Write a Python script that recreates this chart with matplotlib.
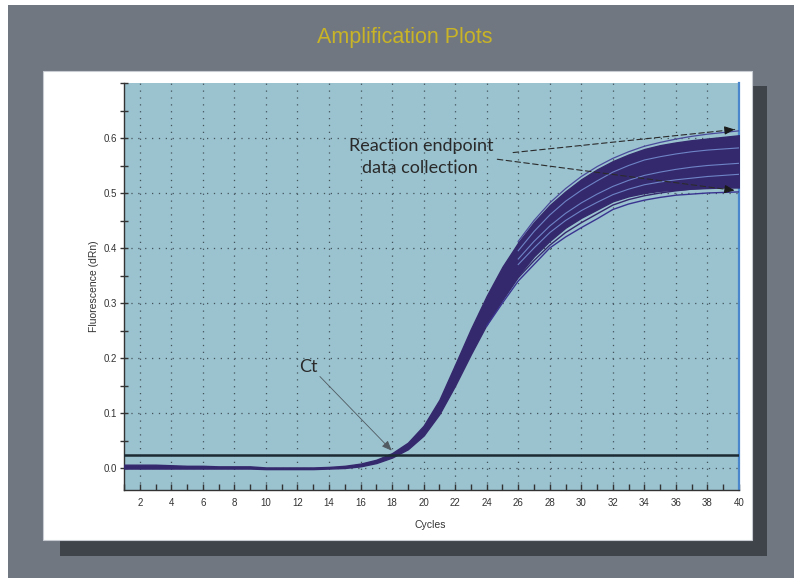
import matplotlib
matplotlib.use("Agg")
import matplotlib.pyplot as plt
from matplotlib.patches import Rectangle
from matplotlib.ticker import MultipleLocator, FixedLocator, FormatStrFormatter

# ---------------- data ----------------
cycles = list(range(1, 41))
band_upper = [0.006, 0.006, 0.006, 0.005, 0.004, 0.004, 0.003, 0.003, 0.003, 0.001,
              0.001, 0.001, 0.001, 0.002, 0.004, 0.008, 0.015, 0.027, 0.046, 0.077,
              0.124, 0.188, 0.253, 0.313, 0.366, 0.410, 0.447, 0.478, 0.503, 0.525,
              0.543, 0.558, 0.570, 0.580, 0.587, 0.592, 0.596, 0.599, 0.602, 0.605]
band_lower = [-0.001, -0.001, -0.001, -0.001, -0.001, -0.001, -0.001, -0.001, -0.001, -0.002,
              -0.002, -0.002, -0.002, -0.001, 0.000, 0.003, 0.009, 0.019, 0.034, 0.059,
              0.098, 0.150, 0.207, 0.261, 0.308, 0.350, 0.385, 0.413, 0.437, 0.455,
              0.470, 0.485, 0.494, 0.500, 0.504, 0.506, 0.508, 0.509, 0.510, 0.510]

tail_cycles = list(range(26, 41))
top_curve = [0.412, 0.450, 0.482, 0.508, 0.530, 0.548, 0.563, 0.575, 0.585, 0.592,
             0.598, 0.603, 0.607, 0.610, 0.613]
streak_a = [0.395, 0.430, 0.460, 0.485, 0.505, 0.522, 0.538, 0.550, 0.560, 0.566,
            0.571, 0.575, 0.578, 0.580, 0.582]
streak_b = [0.380, 0.412, 0.440, 0.463, 0.482, 0.498, 0.512, 0.523, 0.532, 0.538,
            0.543, 0.547, 0.550, 0.552, 0.554]
streak_c = [0.370, 0.400, 0.428, 0.450, 0.468, 0.483, 0.497, 0.507, 0.515, 0.520,
            0.524, 0.527, 0.530, 0.532, 0.534]
low_cycles = list(range(24, 41))
outlier_1 = [0.258, 0.300, 0.340, 0.370, 0.400, 0.420, 0.437, 0.453, 0.470, 0.480,
             0.487, 0.492, 0.496, 0.498, 0.500, 0.501, 0.502]
outlier_2 = [0.260, 0.304, 0.346, 0.377, 0.405, 0.428, 0.446, 0.462, 0.478, 0.488,
             0.495, 0.500, 0.504, 0.507, 0.509, 0.511, 0.512]
threshold = 0.023

x_major = list(range(2, 41, 2))
y_major = [0.0, 0.1, 0.2, 0.3, 0.4, 0.5, 0.6]

# ---------------- figure ----------------
W, H = 794, 578
fig = plt.figure(figsize=(W / 100, H / 100), dpi=100, facecolor="white")

def fx(px):
    return px / W

def fy(py):
    return 1 - py / H

# grey background
fig.patches.append(Rectangle((fx(8), 0), 1 - fx(8), fy(5), transform=fig.transFigure,
                             facecolor="#717780", edgecolor="none", zorder=0))
# shadow
fig.patches.append(Rectangle((fx(60), fy(556)), fx(767 - 60), (556 - 86) / H,
                             transform=fig.transFigure, facecolor="#3f434a",
                             edgecolor="none", zorder=1))
# white panel
fig.patches.append(Rectangle((fx(43), fy(540)), fx(752 - 43), (540 - 71) / H,
                             transform=fig.transFigure, facecolor="white",
                             edgecolor="#c8ccd2", lw=0.8, zorder=2))

fig.text(fx(405), fy(37), "Amplification Plots", ha="center", va="center",
         color="#c8b426", fontsize=15.5, family=["Liberation Sans", "DejaVu Sans"])

ax = fig.add_axes([fx(124), fy(490), fx(739 - 124), (490 - 83) / H], zorder=3)
ax.set_facecolor("#9ac2cf")
ax.set_xlim(1, 40)
ax.set_ylim(-0.04, 0.7)

ax.xaxis.set_major_locator(FixedLocator(x_major))
ax.xaxis.set_minor_locator(MultipleLocator(1))
ax.yaxis.set_major_locator(FixedLocator(y_major))
ax.yaxis.set_minor_locator(MultipleLocator(0.05))
ax.yaxis.set_major_formatter(FormatStrFormatter("%.1f"))

for lab in ax.get_xticklabels() + ax.get_yticklabels():
    lab.set_fontfamily(["Liberation Sans", "DejaVu Sans"])
ax.tick_params(axis="x", which="both", direction="in", length=4, width=1,
               colors="#333333", labelsize=7, pad=6)
ax.tick_params(axis="y", which="both", direction="inout", length=6, width=1,
               colors="#333333", labelsize=7, pad=2)

ax.grid(True, which="major", axis="both", color="#44545c",
        linestyle=(0, (1, 4.5)), linewidth=0.9)
ax.set_axisbelow(True)

for s in ("left", "bottom"):
    ax.spines[s].set_color("#333333")
    ax.spines[s].set_linewidth(1)
ax.spines["top"].set_visible(False)
ax.spines["right"].set_color("#4a86cc")
ax.spines["right"].set_linewidth(1.6)

ax.set_xlabel("Cycles", fontsize=7.5, color="#333333",
              family=["Liberation Sans", "DejaVu Sans"])
ax.set_ylabel("Fluorescence (dRn)", fontsize=7.5, color="#333333",
              family=["Liberation Sans", "DejaVu Sans"])
ax.xaxis.set_label_coords((430 - 124) / (739 - 124), -(520 - 490) / (490 - 83))
ax.yaxis.set_label_coords(-(124 - 99) / (739 - 124), 0.5)

# curves
dark = "#35296d"
light = "#6d84c6"
ax.fill_between(cycles, band_lower, band_upper, color=dark, lw=1.0,
                edgecolor=dark, zorder=3)
ax.plot(tail_cycles, top_curve, color="#4a4a9a", lw=0.9, zorder=4)
for s in (streak_a, streak_b, streak_c):
    ax.plot(tail_cycles, s, color=light, lw=0.8, zorder=4)
ax.plot(low_cycles, outlier_2, color=dark, lw=1.0, zorder=4)
ax.plot(low_cycles, outlier_1, color="#3a3490", lw=1.0, zorder=4)

ax.axhline(threshold, color="#1c2a33", lw=1.8, zorder=5)

# annotations
ann_font = ["Lato", "DejaVu Sans"]
ax.text(24.45, 0.585, "Reaction endpoint", ha="right", va="center", fontsize=13,
        color="#2a2a2a", family=ann_font, zorder=6)
ax.text(23.45, 0.545, "data collection", ha="right", va="center", fontsize=13,
        color="#2a2a2a", family=ann_font, zorder=6)

dash = dict(arrowstyle="-", linestyle=(0, (5, 3)), color="#2b2b2b", lw=0.8)
head = dict(arrowstyle="-|>,head_length=0.6,head_width=0.25", color="#1a1a1a", lw=0.8)
ax.annotate("", xy=(39.9, 0.616), xytext=(25.5, 0.573), arrowprops=dash, zorder=6)
ax.annotate("", xy=(39.9, 0.616), xytext=(39.0, 0.6135), arrowprops=head, zorder=6)
ax.annotate("", xy=(39.9, 0.504), xytext=(24.5, 0.562), arrowprops=dash, zorder=6)
ax.annotate("", xy=(39.9, 0.504), xytext=(39.0, 0.5075), arrowprops=head, zorder=6)

ax.text(12.7, 0.183, "Ct", ha="center", va="center", fontsize=13,
        color="#2a2a2a", family=ann_font, zorder=6)
ax.annotate("", xy=(18.1, 0.028), xytext=(13.3, 0.170),
            arrowprops=dict(arrowstyle="-|>,head_length=0.6,head_width=0.25",
                            color="#505a60", lw=0.6), zorder=6)

fig.savefig("out.png", dpi=100, facecolor=fig.get_facecolor())
